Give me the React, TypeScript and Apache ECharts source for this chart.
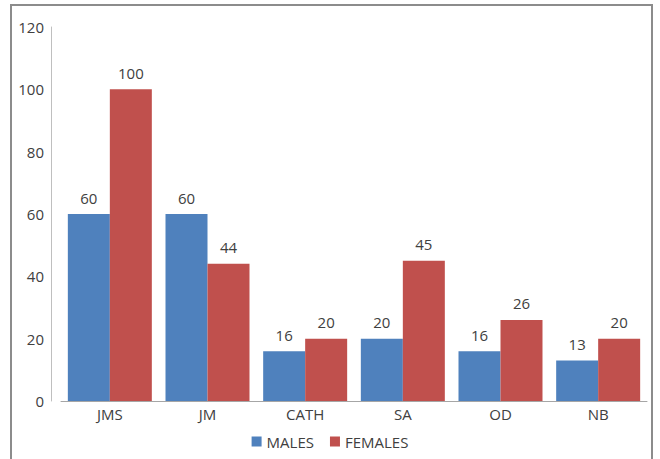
import React, { useEffect, useRef } from "react";
import * as echarts from "echarts";

const categories = ["JMS", "JM", "CATH", "SA", "OD", "NB"];
const males = [60, 60, 16, 20, 16, 13];
const females = [100, 44, 20, 45, 26, 20];
const yTicks = { min: 0, max: 120, interval: 20 };

export default function App() {
  const ref = useRef<HTMLDivElement>(null);
  useEffect(() => {
    const chart = echarts.init(ref.current!, null, { renderer: "svg" });
    const font = "Open Sans";
    chart.setOption({
      animation: false,
      backgroundColor: "#ffffff",
      textStyle: { fontFamily: font },
      grid: { left: 61, right: 13, top: 27, bottom: 58 },
      legend: {
        bottom: 5,
        left: "center",
        itemWidth: 10,
        itemHeight: 10,
        itemGap: 16,
        icon: "rect",
        textStyle: { fontSize: 15, color: "#404040", fontFamily: font },
        data: ["MALES", "FEMALES"],
      },
      xAxis: {
        type: "category",
        data: categories,
        axisLine: { lineStyle: { color: "#a6a6a6", width: 1 } },
        axisTick: { show: false },
        axisLabel: { fontSize: 15, color: "#404040", margin: 5, fontFamily: font },
      },
      yAxis: {
        type: "value",
        min: yTicks.min,
        max: yTicks.max,
        interval: yTicks.interval,
        offset: 10,
        axisLine: { show: true, lineStyle: { color: "#bfbfbf", width: 1 } },
        axisTick: { show: false },
        splitLine: { show: false },
        axisLabel: { fontSize: 15, color: "#404040", margin: 7, fontFamily: font },
      },
      series: [
        {
          name: "MALES",
          type: "bar",
          data: males,
          barGap: "0%",
          barCategoryGap: "14%",
          itemStyle: { color: "#4f81bd" },
          label: { show: true, position: "top", distance: 9, fontSize: 15, color: "#404040", fontFamily: font },
        },
        {
          name: "FEMALES",
          type: "bar",
          data: females,
          itemStyle: { color: "#c0504d" },
          label: { show: true, position: "top", distance: 9, fontSize: 15, color: "#404040", fontFamily: font },
        },
      ],
      graphic: [
        {
          type: "polyline",
          shape: { points: [[11, 470], [11, 5], [652, 5], [652, 470]] },
          style: { stroke: "#8c8c8c", lineWidth: 2, fill: null },
          silent: true,
        },
      ],
    });
    return () => chart.dispose();
  }, []);
  return (
    <div
      ref={ref}
      style={{ position: "fixed", left: 0, top: 0, width: 660, height: 459 }}
    />
  );
}
